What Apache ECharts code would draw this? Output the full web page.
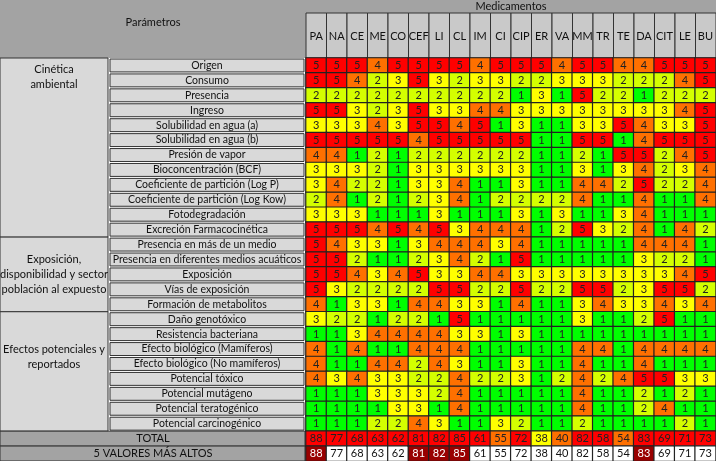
<!DOCTYPE html>
<html><head><meta charset="utf-8">
<script src="https://cdn.jsdelivr.net/npm/echarts@6/dist/echarts.min.js"></script>
<style>html,body{margin:0;padding:0;background:#fff}#main{width:716px;height:461px}</style>
</head><body><div id="main"></div>
<script>
// medicamentos
var drugs = ['PA','NA','CE','ME','CO','CEF','LI','CL','IM','CI','CIP','ER','VA','MM','TR','TE','DA','CIT','LE','BU'];
var params = ['Origen','Consumo','Presencia','Ingreso','Solubilidad en agua (a)','Solubilidad en agua (b)','Presión de vapor',
  'Bioconcentración (BCF)','Coeficiente de partición (Log P)','Coeficiente de partición (Log Kow)','Fotodegradación','Excreción Farmacocinética',
  'Presencia en más de un medio','Presencia en diferentes medios acuáticos','Exposición','Vías de exposición','Formación de metabolitos',
  'Daño genotóxico','Resistencia bacteriana','Efecto biológico (Mamíferos)','Efecto biológico (No mamíferos)','Potencial tóxico',
  'Potencial mutágeno','Potencial teratogénico','Potencial carcinogénico'];
var groups = [
  {name:'Cinética\nambiental', from:0, to:11, top:true},
  {name:'Exposición,\ndisponibilidad y sector\npoblación al expuesto', from:12, to:16},
  {name:'Efectos potenciales y\nreportados', from:17, to:24}
];
var scores = [
  [5,5,5,4,5,5,5,5,4,5,5,5,4,5,5,4,4,5,5,5],
  [5,5,4,2,3,5,3,2,3,3,2,2,3,3,3,2,2,2,4,5],
  [2,2,2,2,2,2,2,2,2,2,1,3,1,5,2,2,1,2,2,2],
  [5,5,3,2,3,5,3,3,4,4,3,3,3,3,3,3,3,3,4,5],
  [3,3,3,4,3,5,5,4,5,1,3,1,1,3,3,5,4,3,3,5],
  [5,5,5,5,5,4,5,5,5,5,5,1,1,5,5,1,4,5,5,5],
  [4,4,1,2,1,2,2,2,2,2,2,1,1,2,1,5,5,2,4,5],
  [3,3,3,2,1,3,3,3,3,3,3,1,1,3,1,3,4,2,3,4],
  [3,4,2,2,1,3,3,4,1,1,3,1,1,4,4,2,5,2,2,4],
  [2,4,1,2,1,2,3,4,1,2,2,2,2,4,1,1,4,1,1,4],
  [3,3,3,1,1,1,3,1,1,1,3,1,3,1,1,3,4,1,1,1],
  [5,5,5,4,5,4,5,3,4,4,4,1,2,5,3,2,4,1,4,2],
  [5,4,3,3,1,3,4,4,4,3,4,1,1,1,1,1,4,4,4,1],
  [5,5,2,1,1,2,3,4,2,1,5,1,1,1,1,1,3,2,2,1],
  [5,5,4,3,4,5,3,3,4,4,3,3,3,3,3,3,3,3,4,5],
  [5,3,2,2,2,2,5,5,2,2,5,2,2,5,5,2,3,5,5,2],
  [4,1,3,3,1,4,4,3,3,1,4,1,1,3,4,3,3,4,3,4],
  [3,2,2,1,2,2,1,5,1,1,1,1,1,3,1,1,2,5,1,1],
  [1,1,3,4,4,4,4,3,3,1,3,1,1,1,1,1,1,1,1,1],
  [4,1,4,1,1,4,4,4,1,1,1,1,1,4,4,1,4,4,4,4],
  [4,1,1,4,4,2,4,3,1,1,3,1,1,4,1,1,4,1,1,1],
  [4,3,4,3,3,2,2,4,2,2,3,1,2,4,2,4,5,5,3,3],
  [1,1,1,3,3,3,2,4,1,1,1,1,1,4,1,1,2,1,2,1],
  [1,1,1,1,3,3,1,4,1,1,1,1,1,4,1,1,2,4,1,1],
  [1,1,1,2,2,4,3,1,1,3,2,1,1,2,1,1,1,1,2,1]
];
var totals = [88,77,68,63,62,81,82,85,61,55,72,38,40,82,58,54,83,69,71,73];
var top5 = ['PA','CEF','LI','CL','DA'];

var scoreColor = {1:'#00ff00',2:'#d4ff00',3:'#ffff00',4:'#ff7000',5:'#ff0000'};
function totalColor(v){ return v>=58 ? '#ff0000' : (v>=40 ? '#ff7000' : '#ffff00'); }

var rows = params.concat(['TOTAL','5 VALORES MÁS ALTOS']);
var data = [];
scores.forEach(function(r,ri){
  r.forEach(function(v,ci){
    data.push({value:[ci,ri,v], itemStyle:{color:scoreColor[v]}});
  });
});
totals.forEach(function(v,ci){
  data.push({value:[ci,25,v], itemStyle:{color:totalColor(v)}});
  var hi = top5.indexOf(drugs[ci])>=0;
  data.push({value:[ci,26,v], itemStyle:{color:hi?'#990000':'#ffffff'}, label:{color:hi?'#fff':'#111'}});
});

var W=716, H=461, gx=306, gy=58, rh=(H-gy)/rows.length, cw=(W-gx)/drugs.length;
var font = 'Lato, "Noto Sans", sans-serif';
var g = [];
g.push({type:'rect', shape:{x:0,y:0,width:W,height:gy}, style:{fill:'#a3a3a3'}});
drugs.forEach(function(d,i){
  g.push({type:'rect', shape:{x:gx+i*cw,y:13,width:cw,height:gy-13}, style:{fill:'#c9c9c9',stroke:'#333',lineWidth:1}});
});
g.push({type:'text', x:153, y:22, style:{text:'Parámetros',font:'11px '+font,fill:'#111',align:'center',verticalAlign:'middle'}});
g.push({type:'text', x:gx+(W-gx)/2, y:6, style:{text:'Medicamentos',font:'11px '+font,fill:'#111',align:'center',verticalAlign:'middle'}});
g.push({type:'rect', shape:{x:0,y:gy,width:gx,height:25*rh}, style:{fill:'#ffffff'}});
groups.forEach(function(gr){
  var y0=gy+gr.from*rh, h=(gr.to-gr.from+1)*rh;
  g.push({type:'rect', shape:{x:0,y:y0,width:108,height:h}, style:{fill:'#d9d9d9',stroke:'#333',lineWidth:1}});
  g.push({type:'text', x:54, y:gr.top?y0+4:y0+h/2-(gr.to-gr.from>5?14:0), style:{text:gr.name,font:'11px '+font,fill:'#111',align:'center',verticalAlign:gr.top?'top':'middle',lineHeight:15}});
});
params.forEach(function(p,i){
  g.push({type:'rect', shape:{x:110,y:gy+i*rh+1,width:194,height:rh-2}, style:{fill:'#d9d9d9',stroke:'#333',lineWidth:1}});
  g.push({type:'text', x:207, y:gy+i*rh+rh/2, style:{text:p,font:'10.5px '+font,fill:'#111',align:'center',verticalAlign:'middle'}});
});
['TOTAL','5 VALORES MÁS ALTOS'].forEach(function(t,k){
  var y0=gy+(25+k)*rh;
  g.push({type:'rect', shape:{x:0,y:y0,width:gx-1,height:rh}, style:{fill:'#a3a3a3',stroke:'#333',lineWidth:1}});
  g.push({type:'text', x:153, y:y0+rh/2, style:{text:t,font:'11px '+font,fill:'#111',align:'center',verticalAlign:'middle'}});
});

var chart = echarts.init(document.getElementById('main'));
chart.setOption({
  animation:false,
  graphic:{elements:g},
  grid:{left:gx,right:0,top:gy,bottom:0},
  xAxis:{type:'category',data:drugs,position:'top',axisLine:{show:false},axisTick:{show:false},
    axisLabel:{interval:0,margin:16,color:'#111',fontSize:11,fontFamily:font},splitLine:{show:false}},
  yAxis:{type:'category',data:rows,inverse:true,axisLabel:{show:false},axisLine:{show:false},axisTick:{show:false}},
  series:[{type:'heatmap',data:data,z:5,
    label:{show:true,color:'#222',fontSize:11,fontFamily:font},
    itemStyle:{borderColor:'#222',borderWidth:1.2}}]
});
</script></body></html>
